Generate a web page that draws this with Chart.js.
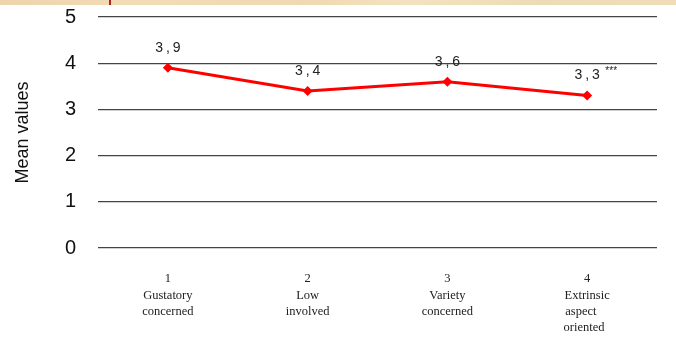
<!DOCTYPE html>
<html>
<head>
<meta charset="utf-8">
<script src="https://cdn.jsdelivr.net/npm/chart.js@4/dist/chart.umd.min.js"></script>
<style>
  html, body { margin: 0; padding: 0; background: #ffffff; }
  #wrap { position: relative; width: 676px; height: 347px; overflow: hidden; }
  #strip { position: absolute; left: 0; top: 0; width: 676px; height: 5px;
    background: linear-gradient(to right, #efd3ab 0%, #f2dcb6 20%, #f0d8b0 45%, #f3e2bf 60%, #ebdcb6 80%, #f1dcb9 100%); }
  #mark { position: absolute; left: 109px; top: 0; width: 2px; height: 5px; background: #a8261a; }
  canvas { position: absolute; left: 0; top: 0; }
</style>
</head>
<body>
<div id="wrap">
  <canvas id="c" width="676" height="347"></canvas>
  <div id="strip"></div>
  <div id="mark"></div>
</div>
<script>
const categories = [
  ["1", "Gustatory", "concerned"],
  ["2", "Low", "involved"],
  ["3", "Variety", "concerned"],
  ["4", "Extrinsic", "aspect    ", "oriented  "]
];
const meanValues = [3.9, 3.4, 3.6, 3.3];
const valueLabels = ["3,9", "3,4", "3,6", "3,3"];
const labelNotes = ["", "", "", "***"];
const yTicks = [0, 1, 2, 3, 4, 5];
const yTitle = "Mean values";

const dataLabelPlugin = {
  id: 'dataLabels',
  afterDatasetsDraw(chart) {
    const ctx = chart.ctx;
    const meta = chart.getDatasetMeta(0);
    ctx.save();
    meta.data.forEach((pt, i) => {
      ctx.fillStyle = '#222222';
      ctx.font = '14px "Liberation Sans", Arial, sans-serif';
      ctx.letterSpacing = '3px';
      ctx.textAlign = 'center';
      ctx.textBaseline = 'middle';
      const y = pt.y - 20;
      ctx.fillText(valueLabels[i], pt.x + 1.5, y);
      if (labelNotes[i]) {
        const w = ctx.measureText(valueLabels[i]).width;
        ctx.font = '10px "Liberation Sans", Arial, sans-serif';
        ctx.letterSpacing = '0px';
        ctx.textAlign = 'left';
        ctx.fillText(labelNotes[i], pt.x + w / 2 + 4, y - 4);
      }
    });
    ctx.restore();
  }
};

new Chart(document.getElementById('c'), {
  type: 'line',
  data: {
    labels: categories,
    datasets: [{
      data: meanValues,
      borderColor: '#ff0000',
      backgroundColor: '#ff0000',
      borderWidth: 3,
      pointStyle: 'rectRot',
      pointRadius: 5,
      pointHoverRadius: 5,
      pointBackgroundColor: '#ff0000',
      pointBorderColor: '#ff0000',
      pointBorderWidth: 0,
      tension: 0,
      fill: false
    }]
  },
  options: {
    responsive: false,
    animation: false,
    devicePixelRatio: 1,
    layout: { padding: { left: 0, right: 19, top: 17, bottom: 0 } },
    plugins: { legend: { display: false }, tooltip: { enabled: false } },
    scales: {
      x: {
        offset: true,
        grid: { display: false, drawTicks: false },
        border: { display: false },
        afterFit(scale) { scale.height = 99; },
        ticks: {
          padding: 23,
          color: '#222222',
          font: { family: '"Liberation Serif", "Times New Roman", serif', size: 12.5, lineHeight: 1.3 },
          maxRotation: 0,
          autoSkip: false
        }
      },
      y: {
        min: 0,
        max: 5,
        afterFit(scale) { scale.width = 98; scale.paddingTop = 0; scale.paddingBottom = 0; },
        afterBuildTicks(scale) { scale.ticks = yTicks.map(v => ({ value: v })); },
        grid: { color: '#444444', lineWidth: 1.2, drawTicks: false },
        border: { display: false },
        ticks: {
          padding: 22,
          color: '#111111',
          font: { family: '"Liberation Sans", Arial, sans-serif', size: 20 }
        },
        title: {
          display: true,
          text: yTitle,
          color: '#111111',
          padding: { top: 12, bottom: 0 },
          font: { family: '"Liberation Sans", Arial, sans-serif', size: 18 }
        }
      }
    }
  },
  plugins: [dataLabelPlugin]
});
</script>
</body>
</html>
